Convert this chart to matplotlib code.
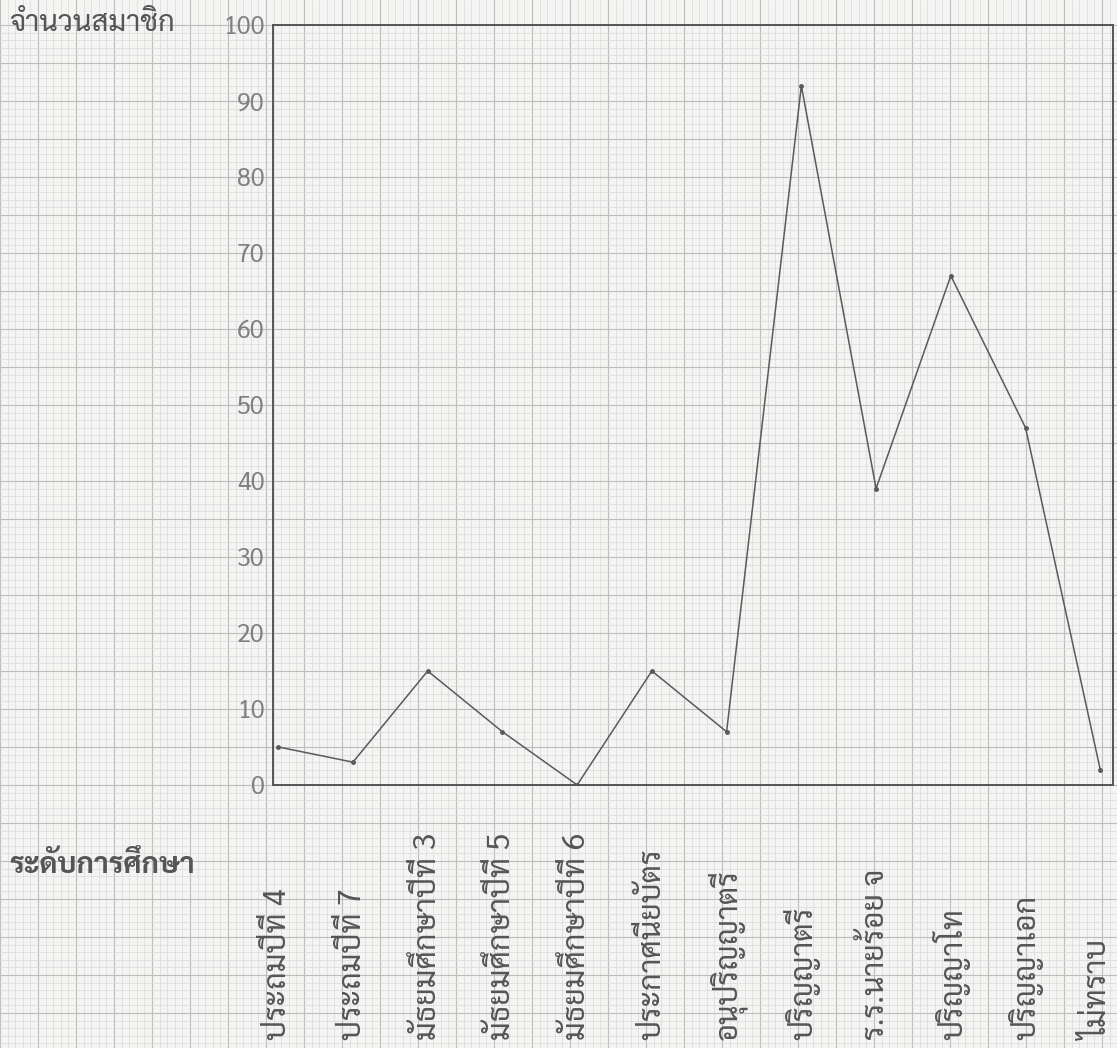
import matplotlib
matplotlib.use("Agg")
import numpy as np
import matplotlib.pyplot as plt
from matplotlib import transforms

# education level -> number of members
levels = ["ประถมปีที่ 4", "ประถมปีที่ 7", "มัธยมศึกษาปีที่ 3", "มัธยมศึกษาปีที่ 5",
          "มัธยมศึกษาปีที่ 6", "ประกาศนียบัตร", "อนุปริญญาตรี", "ปริญญาตรี",
          "ร.ร.นายร้อย จ", "ปริญญาโท", "ปริญญาเอก", "ไม่ทราบ"]
members = [5, 3, 15, 7, 0, 15, 7, 92, 39, 67, 47, 2]
yticks = [0, 10, 20, 30, 40, 50, 60, 70, 80, 90, 100]

thai = ["Sarabun", "DejaVu Sans"]
plt.rcParams['font.family'] = thai

fig = plt.figure(figsize=(11.17, 10.48), dpi=100)
fig.patch.set_facecolor("#f4f4f2")

# graph paper background
bg = fig.add_axes([0, 0, 1, 1], zorder=-5)
bg.set_xlim(0, 1117)
bg.set_ylim(1048, 0)
bg.set_xticks(np.arange(0, 1117, 38))
bg.set_yticks(np.arange(25, 1048, 38))
bg.set_xticks(np.arange(0, 1117, 7.6), minor=True)
bg.set_yticks(np.arange(25, 1048, 7.6), minor=True)
bg.grid(which="major", color="#bdbdbd", lw=0.8)
bg.grid(which="minor", color="#dadada", lw=0.5)
bg.tick_params(which="both", length=0, labelbottom=False, labelleft=False)
for s in bg.spines.values():
    s.set_visible(False)
bg.set_facecolor("#f4f4f2")

ax = fig.add_axes([0.2444, 0.2510, 0.752, 0.7252])
ax.patch.set_alpha(0)
x = np.arange(len(levels))
ax.plot(x, members, color="#5a5a5a", lw=1.1, marker="o", ms=2.5)
ax.set_xlim(-0.07, 11.17)
ax.set_ylim(0, 100)
ax.set_yticks(yticks)
ax.set_yticklabels([str(v) for v in yticks], color="#808080", fontsize=18)
ax.tick_params(axis="y", length=0, pad=6)
ax.set_xticks([])
for s in ax.spines.values():
    s.set_color("#555555")
    s.set_linewidth(1.4)

trans = transforms.blended_transform_factory(ax.transData, fig.transFigure)
for i, lab in enumerate(levels):
    ax.text(i, 0.008, lab, transform=trans, rotation=90, ha="center", va="bottom",
            fontsize=22, color="#555555", clip_on=False)

fig.text(0.008, 0.978, "จำนวนสมาชิก", fontsize=21, color="#555555", va="center")
fig.text(0.008, 0.174, "ระดับการศึกษา", fontsize=21, color="#555555", va="center",
         fontweight="bold")

fig.savefig("out.png", facecolor=fig.get_facecolor())
